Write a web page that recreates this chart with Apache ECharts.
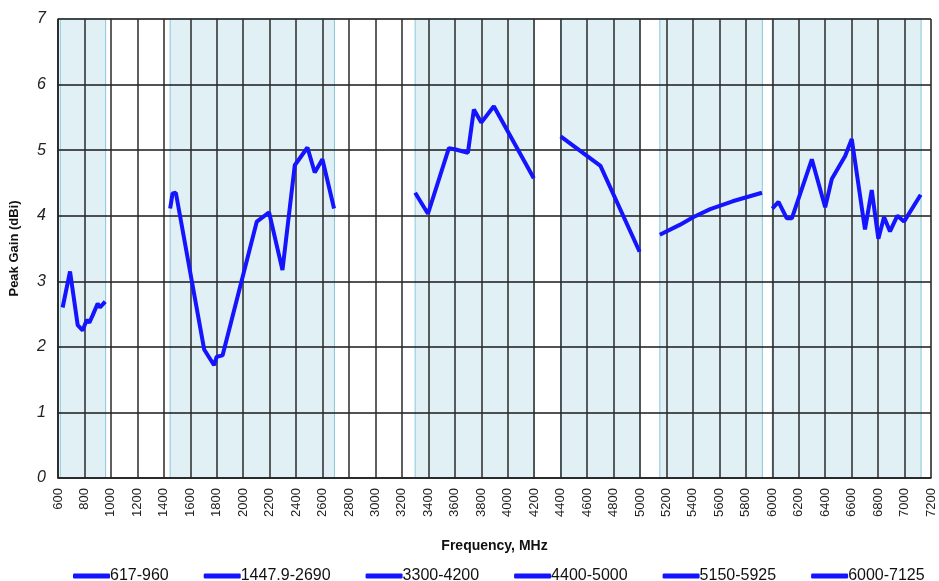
<!DOCTYPE html>
<html>
<head>
<meta charset="utf-8">
<script src="https://cdn.jsdelivr.net/npm/echarts@6/dist/echarts.min.js"></script>
<style>
  html, body { margin: 0; padding: 0; background: #fff; }
  #chart { width: 939px; height: 581px; }
</style>
</head>
<body>
<div id="chart"></div>
<script>
// band names (legend) and shaded frequency ranges
const bandNames = ['617-960', '1447.9-2690', '3300-4200', '4400-5000', '5150-5925', '6000-7125'];
const bandRanges = [[617, 960], [1447.9, 2690], [3300, 4200], [4400, 5000], [5150, 5925], [6000, 7125]];

// [frequency MHz, peak gain dBi]
const band617 = [[635, 2.60], [691, 3.15], [749, 2.33], [786, 2.25], [817, 2.41], [837, 2.37], [862, 2.48], [900, 2.66], [917, 2.60], [957, 2.69]];
const band1448 = [[1448, 4.11], [1466, 4.34], [1491, 4.35], [1705, 1.96], [1780, 1.72], [1800, 1.85], [1844, 1.87], [2103, 3.91], [2196, 4.05], [2297, 3.17], [2390, 4.77], [2486, 5.04], [2541, 4.66], [2599, 4.86], [2687, 4.11]];
const band3300 = [[3300, 4.35], [3397, 4.03], [3555, 5.03], [3606, 5.01], [3699, 4.96], [3744, 5.62], [3800, 5.42], [3895, 5.67], [4197, 4.57]];
const band4400 = [[4400, 5.21], [4701, 4.76], [4997, 3.45]];
const band5150 = [[5150, 3.71], [5300, 3.86], [5405, 3.98], [5531, 4.10], [5700, 4.22], [5922, 4.35]];
const band6000 = [[6000, 4.11], [6047, 4.21], [6110, 3.96], [6148, 3.96], [6299, 4.86], [6400, 4.13], [6450, 4.56], [6551, 4.91], [6601, 5.17], [6701, 3.79], [6752, 4.39], [6802, 3.65], [6845, 3.98], [6890, 3.76], [6946, 4.00], [6996, 3.91], [7122, 4.32]];

const bandData = [band617, band1448, band3300, band4400, band5150, band6000];

const lineColor = '#1414ff';
const font = 'Liberation Sans, Arial, sans-serif';

const chart = echarts.init(document.getElementById('chart'));

const series = bandNames.map((name, i) => ({
    name: name,
    type: 'line',
    data: bandData[i],
    showSymbol: false,
    z: 5,
    lineStyle: { color: lineColor, width: 4 },
    itemStyle: { color: lineColor }
}));

// shaded bands drawn underneath the grid lines
series.push({
    name: 'bands',
    type: 'line',
    data: [],
    z: 1,
    silent: true,
    markArea: {
        silent: true,
        itemStyle: { color: '#e1f0f5', borderColor: '#86c8da', borderWidth: 1 },
        data: bandRanges.map(r => [{ xAxis: r[0] }, { xAxis: r[1] }])
    }
});

const option = {
    animation: false,
    grid: {
        left: 57, right: 8, top: 19, bottom: 103,
        show: true, borderColor: '#b8b8b8', borderWidth: 1
    },
    legend: {
        data: bandNames,
        top: 563,
        left: 68,
        icon: 'roundRect',
        itemWidth: 37,
        itemHeight: 5,
        itemGap: 35,
        textStyle: { fontFamily: font, fontSize: 16, color: '#111', padding: [0, 0, 0, -5] }
    },
    xAxis: {
        type: 'value',
        min: 600, max: 7200, interval: 200,
        z: 3,
        name: 'Frequency, MHz',
        nameLocation: 'middle',
        nameGap: 61,
        nameTextStyle: { fontFamily: font, fontSize: 14, fontWeight: 'bold', color: '#111' },
        axisLine: { lineStyle: { color: '#222', width: 1.5 } },
        axisTick: { show: false },
        axisLabel: { rotate: 90, fontFamily: font, fontSize: 13, color: '#222', margin: 10, formatter: v => String(v) },
        splitLine: { show: true, lineStyle: { color: '#2a2a2a', width: 1.5 } }
    },
    yAxis: {
        type: 'value',
        min: 0, max: 7, interval: 1,
        z: 3,
        name: 'Peak Gain (dBi)',
        nameLocation: 'middle',
        nameGap: 37,
        nameRotate: 90,
        nameTextStyle: { fontFamily: font, fontSize: 13, fontWeight: 'bold', color: '#111' },
        axisLine: { show: true, lineStyle: { color: '#222', width: 1.5 } },
        axisTick: { show: false },
        axisLabel: { fontFamily: font, fontSize: 16, fontStyle: 'italic', color: '#222', margin: 12 },
        splitLine: { show: true, lineStyle: { color: '#1a1a1a', width: 1.5 } }
    },
    series: series
};

chart.setOption(option);
</script>
</body>
</html>
